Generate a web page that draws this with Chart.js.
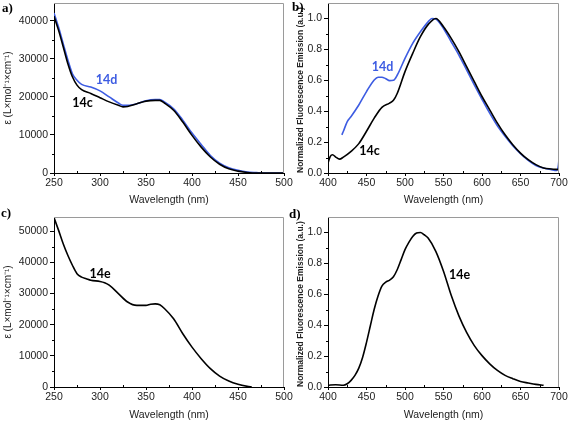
<!DOCTYPE html>
<html>
<head>
<meta charset="utf-8">
<script src="https://cdn.jsdelivr.net/npm/chart.js@4.4.0/dist/chart.umd.min.js"></script>
<style>
  html, body { margin: 0; padding: 0; background: #fff; }
  #fig { position: relative; width: 569px; height: 422px; overflow: hidden; }
  #fig canvas { position: absolute; }
  .tag { position: absolute; z-index: 2; font: bold 13px 'Liberation Serif', serif; color: #000; }
</style>
</head>
<body>
<div id="fig">
  <canvas id="chA" width="298" height="217" style="left:0px;top:-7px"></canvas>
  <canvas id="chB" width="293" height="217" style="left:280px;top:-7px"></canvas>
  <canvas id="chC" width="298" height="217" style="left:0px;top:207px"></canvas>
  <canvas id="chD" width="293" height="217" style="left:280px;top:207px"></canvas>
  <div class="tag" style="left:2px;top:0px">a)</div>
  <div class="tag" style="left:292px;top:-1px">b)</div>
  <div class="tag" style="left:1px;top:205px">c)</div>
  <div class="tag" style="left:289px;top:206px">d)</div>
</div>
<script>
// a) absorption 14c / 14d
const A_WL = [250, 255, 260, 265, 270, 275, 280, 290, 300, 310, 320, 325, 330, 340, 350, 360, 365, 370, 380, 390, 400, 410, 420, 430, 440, 450, 460, 470, 480, 490, 500];
const A_14C = [41200, 37500, 33200, 28800, 25300, 23100, 21900, 20900, 19800, 18700, 17800, 17400, 17500, 18200, 18900, 19100, 19100, 18400, 16500, 13400, 9900, 6800, 4200, 2300, 1100, 500, 150, 0, 0, 0, 0];
const A_14D = [42100, 38300, 34000, 29800, 26100, 24400, 23300, 22600, 21600, 20000, 18400, 17800, 17800, 18200, 19000, 19300, 19300, 18700, 16900, 13900, 10500, 7500, 4600, 2600, 1400, 700, 250, 100, 0, 0, 0];

// b) emission 14c / 14d
const B_WL_C = [400, 403, 406, 410, 415, 420, 430, 440, 450, 460, 470, 480, 485, 490, 500, 510, 520, 530, 540, 550, 560, 570, 580, 590, 600, 610, 620, 630, 640, 650, 660, 670, 680, 690, 700];
const B_14C = [0.065, 0.108, 0.118, 0.103, 0.09, 0.103, 0.14, 0.19, 0.27, 0.355, 0.425, 0.452, 0.47, 0.516, 0.656, 0.774, 0.882, 0.96, 1.0, 0.946, 0.871, 0.785, 0.688, 0.591, 0.495, 0.409, 0.323, 0.247, 0.183, 0.129, 0.086, 0.054, 0.032, 0.026, 0.022];
const B_WL_D = [418, 420, 425, 430, 440, 450, 460, 465, 470, 475, 480, 485, 490, 500, 510, 520, 530, 535, 540, 550, 560, 570, 580, 590, 600, 610, 620, 630, 640, 650, 660, 670, 680, 690, 697, 699, 700];
const B_14D = [0.247, 0.27, 0.333, 0.366, 0.44, 0.527, 0.602, 0.62, 0.62, 0.61, 0.598, 0.6, 0.634, 0.742, 0.839, 0.914, 0.978, 1.0, 0.996, 0.935, 0.849, 0.763, 0.667, 0.57, 0.477, 0.387, 0.305, 0.237, 0.176, 0.125, 0.082, 0.049, 0.032, 0.022, 0.017, 0.043, 0.09];

// c) absorption 14e
const C_WL = [250, 255, 260, 265, 270, 275, 280, 285, 290, 300, 305, 310, 320, 330, 340, 350, 355, 360, 365, 370, 380, 390, 400, 410, 420, 430, 440, 450, 460, 465];
const C_14E = [54400, 50300, 46000, 42300, 39100, 36400, 35300, 34800, 34300, 33900, 33500, 32700, 30000, 27300, 26200, 26200, 26600, 26700, 26400, 25200, 21900, 17100, 12800, 9100, 5900, 3500, 1900, 860, 210, 0];

// d) emission 14e
const D_WL = [400, 410, 420, 425, 430, 435, 440, 445, 450, 455, 460, 465, 470, 475, 480, 485, 490, 495, 500, 505, 510, 515, 520, 525, 530, 540, 550, 560, 570, 580, 590, 600, 610, 620, 630, 640, 650, 660, 670, 680];
const D_14E = [0.011, 0.015, 0.011, 0.021, 0.043, 0.075, 0.122, 0.193, 0.289, 0.396, 0.503, 0.589, 0.653, 0.679, 0.692, 0.713, 0.760, 0.824, 0.889, 0.936, 0.974, 0.996, 1.0, 0.985, 0.964, 0.878, 0.749, 0.593, 0.460, 0.353, 0.268, 0.203, 0.150, 0.107, 0.075, 0.054, 0.036, 0.026, 0.017, 0.011];

// ticks
const ABS_X_TICKS = [250, 300, 350, 400, 450, 500];
const EM_X_TICKS = [400, 450, 500, 550, 600, 650, 700];
const A_Y_TICKS = [0, 10000, 20000, 30000, 40000];
const C_Y_TICKS = [0, 10000, 20000, 30000, 40000, 50000];
const EM_Y_TICKS = [0, 0.2, 0.4, 0.6, 0.8, 1.0];

const BLUE = '#3d5ce2';
const TICK_FONT = { family: "'Liberation Sans', Arial, sans-serif", size: 10.5 };
const ABS_TITLE = 'ε (L×mol⁻¹×cm⁻¹)';
const EM_TITLE = 'Normalized Fluorescence Emission (a.u.)';

// frame, minor ticks and the compound labels
const decor = {
    id: 'decor',
    afterDraw(chart, args, opts) {
        const { ctx, chartArea: a, scales: { x, y } } = chart;
        ctx.save();
        ctx.lineWidth = 1;
        ctx.strokeStyle = '#9a9a9a';
        ctx.beginPath();
        ctx.moveTo(a.left, a.top + 0.5);
        ctx.lineTo(a.right - 0.5, a.top + 0.5);
        ctx.lineTo(a.right - 0.5, a.bottom);
        ctx.stroke();

        ctx.strokeStyle = '#000';
        ctx.beginPath();
        const xt = opts.xTicks, yt = opts.yTicks;
        for (let i = 0; i < xt.length - 1; i++) {
            const px = Math.round(x.getPixelForValue((xt[i] + xt[i + 1]) / 2)) + 0.5;
            ctx.moveTo(px, a.bottom);
            ctx.lineTo(px, a.bottom - 2);
        }
        for (let i = 0; i < yt.length - 1; i++) {
            const py = Math.round(y.getPixelForValue((yt[i] + yt[i + 1]) / 2)) + 0.5;
            ctx.moveTo(a.left, py);
            ctx.lineTo(a.left - 2, py);
        }
        ctx.stroke();

        ctx.font = "bold 12.5px Lato, 'DejaVu Sans', sans-serif";
        ctx.textAlign = 'center';
        ctx.textBaseline = 'middle';
        opts.labels.forEach(l => {
            ctx.fillStyle = l.color;
            ctx.fillText(l.text, x.getPixelForValue(l.x), y.getPixelForValue(l.y));
        });
        ctx.restore();
    }
};

function makePanel(id, cfg) {
    return new Chart(document.getElementById(id), {
        type: 'line',
        data: {
            datasets: cfg.series.map(s => ({
                data: s.x.map((v, i) => ({ x: v, y: s.y[i] })),
                borderColor: s.color,
                borderWidth: 1.6,
                pointRadius: 0,
                cubicInterpolationMode: 'monotone',
                fill: false
            }))
        },
        options: {
            responsive: false,
            animation: false,
            events: [],
            layout: { padding: { top: 10, right: 14, left: 0, bottom: 0 } },
            plugins: {
                legend: { display: false },
                tooltip: { enabled: false },
                decor: { xTicks: cfg.xTicks, yTicks: cfg.yTicks, labels: cfg.labels }
            },
            scales: {
                x: {
                    type: 'linear',
                    min: cfg.xMin, max: cfg.xMax,
                    afterBuildTicks: s => { s.ticks = cfg.xTicks.map(v => ({ value: v })); },
                    afterFit: s => { s.height = 37; },
                    grid: { drawOnChartArea: false, drawTicks: true, tickLength: 3, color: '#000' },
                    border: { color: '#000', width: 1 },
                    ticks: { color: '#222', font: TICK_FONT, padding: 1, maxRotation: 0, autoSkip: false, callback: v => String(v) },
                    title: { display: true, text: 'Wavelength (nm)', color: '#222', font: TICK_FONT, padding: { top: 0, bottom: cfg.xTitlePad } }
                },
                y: {
                    min: 0, max: cfg.yMax,
                    afterBuildTicks: s => { s.ticks = cfg.yTicks.map(v => ({ value: v })); },
                    afterFit: s => { s.width = cfg.yWidth; },
                    grid: { drawOnChartArea: false, drawTicks: true, tickLength: 4, color: '#000' },
                    border: { color: '#000', width: 1 },
                    ticks: { color: '#222', font: TICK_FONT, padding: 2, autoSkip: false, callback: cfg.yFmt },
                    title: { display: true, text: cfg.yTitle, color: '#222', font: cfg.yTitleFont, align: cfg.yTitleAlign, padding: { top: cfg.yTitlePad, bottom: 0 } }
                }
            }
        },
        plugins: [decor]
    });
}

const absTitleFont = { family: "'Liberation Sans', Arial, sans-serif", size: 10 };
const emTitleFont = { family: "'Liberation Sans', Arial, sans-serif", size: 8.5, weight: 'bold' };

makePanel('chA', {
    series: [{ x: A_WL, y: A_14C, color: '#000' }, { x: A_WL, y: A_14D, color: BLUE }],
    xMin: 250, xMax: 500, xTicks: ABS_X_TICKS, xTitlePad: 4,
    yMax: 44700, yTicks: A_Y_TICKS, yFmt: v => String(v), yWidth: 54,
    yTitle: ABS_TITLE, yTitleFont: absTitleFont, yTitlePad: 2, yTitleAlign: 'center',
    labels: [{ text: '14d', x: 307, y: 24400, color: BLUE }, { text: '14c', x: 281, y: 18300, color: '#000' }]
});

makePanel('chB', {
    series: [{ x: B_WL_C, y: B_14C, color: '#000' }, { x: B_WL_D, y: B_14D, color: BLUE }],
    xMin: 400, xMax: 700, xTicks: EM_X_TICKS, xTitlePad: 4,
    yMax: 1.1, yTicks: EM_Y_TICKS, yFmt: v => v.toFixed(1), yWidth: 48,
    yTitle: EM_TITLE, yTitleFont: emTitleFont, yTitlePad: 15.5, yTitleAlign: 'start',
    labels: [{ text: '14d', x: 471, y: 0.686, color: BLUE }, { text: '14c', x: 454, y: 0.144, color: '#000' }]
});

makePanel('chC', {
    series: [{ x: C_WL, y: C_14E, color: '#000' }],
    xMin: 250, xMax: 500, xTicks: ABS_X_TICKS, xTitlePad: 3,
    yMax: 54600, yTicks: C_Y_TICKS, yFmt: v => String(v), yWidth: 54,
    yTitle: ABS_TITLE, yTitleFont: absTitleFont, yTitlePad: 2, yTitleAlign: 'center',
    labels: [{ text: '14e', x: 300, y: 36200, color: '#000' }]
});

makePanel('chD', {
    series: [{ x: D_WL, y: D_14E, color: '#000' }],
    xMin: 400, xMax: 700, xTicks: EM_X_TICKS, xTitlePad: 3,
    yMax: 1.1, yTicks: EM_Y_TICKS, yFmt: v => v.toFixed(1), yWidth: 48,
    yTitle: EM_TITLE, yTitleFont: emTitleFont, yTitlePad: 15.5, yTitleAlign: 'start',
    labels: [{ text: '14e', x: 571, y: 0.724, color: '#000' }]
});
</script>
</body>
</html>
